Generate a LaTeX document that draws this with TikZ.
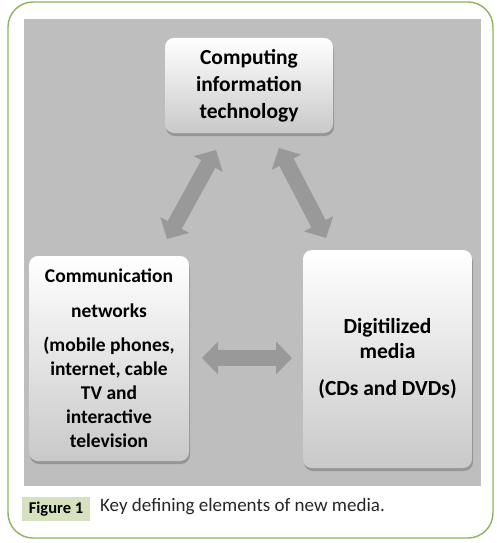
\documentclass[tikz,border=0pt]{standalone}
\usepackage{fontspec}
\setmainfont{Carlito}
\usetikzlibrary{arrows.meta,shadows,positioning}

\definecolor{framegreen}{HTML}{8DB35E}
\definecolor{panelgray}{HTML}{BEBEBE}
\definecolor{taggreen}{HTML}{D6E2BF}
\definecolor{arrowgray}{HTML}{999999}
\definecolor{boxbottom}{HTML}{C9C9C9}

\tikzset{
  mediabox/.style={rounded corners=9pt, top color=white, bottom color=boxbottom,
    align=center, inner sep=0pt, text=black,
    font=\bfseries\fontsize{19.5}{24}\selectfont,
    drop shadow={shadow xshift=1pt, shadow yshift=-3pt, opacity=.35, fill=black!70}},
  fatarrow/.style={line width=16pt, draw=arrowgray,
    {Triangle[width=32pt,length=16pt]}-{Triangle[width=32pt,length=16pt]}},
}

\begin{document}
\begin{tikzpicture}[x=1pt,y=-1pt]
  \useasboundingbox (0,0) rectangle (497,543);
  % frame and grey panel
  \draw[framegreen, line width=1.4pt, rounded corners=25pt] (8,2) rectangle (493,538);
  \fill[panelgray] (24,19) rectangle (481,486);

  % the three boxes
  \node[mediabox, minimum width=168pt, minimum height=95pt,
    font=\bfseries\fontsize{21.5}{27}\selectfont] (cit) at (249,85.5)
    {Computing\\information\\technology};
  \node[mediabox, minimum width=160pt, minimum height=205pt] (net) at (109,358.5)
    {Communication\\[11pt]networks\\[10pt](mobile phones,\\internet, cable\\TV and\\interactive\\television};
  \node[mediabox, minimum width=169pt, minimum height=218pt,
    font=\bfseries\fontsize{21.5}{25}\selectfont] (dig) at (387.5,359)
    {Digitilized\\media\\[12pt](CDs and DVDs)};

  % arrow ends
  \coordinate (lt) at (216,150);
  \coordinate (lb) at (167,239);
  \coordinate (rt) at (279,148);
  \coordinate (rb) at (326,238);
  \coordinate (hl) at (202,358);
  \coordinate (hr) at (292,358);

  \draw[fatarrow] (lb) -- (lt);
  \draw[fatarrow] (rt) -- (rb);
  \draw[fatarrow] (hl) -- (hr);

  % caption
  \node[fill=taggreen, font=\bfseries\fontsize{16.5}{18}\selectfont, minimum width=68pt,
    minimum height=24pt, inner sep=0pt] (tag) at (56,509) {Figure 1};
  \node[anchor=west, font=\fontsize{19}{22}\selectfont, text=black!85, inner sep=0pt]
    (cap) at (100,507) {Key defining elements of new media.};
\end{tikzpicture}
\end{document}
